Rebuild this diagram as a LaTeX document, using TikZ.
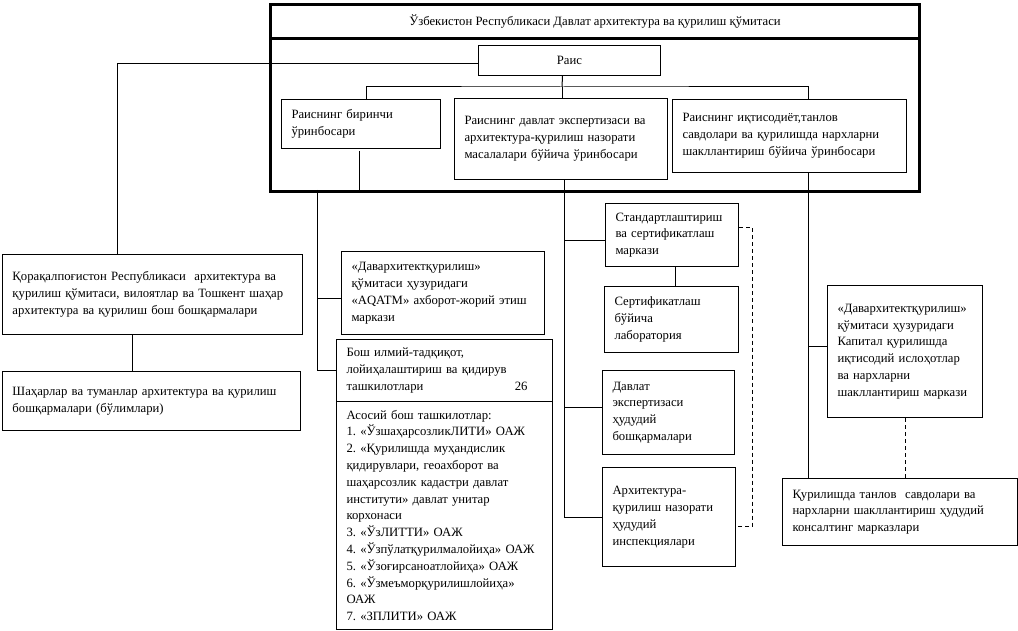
\documentclass[tikz,border=0pt]{standalone}
\usepackage{fontspec}
\setmainfont{Liberation Serif}
\usetikzlibrary{calc,positioning}
\hyphenpenalty=10000
\exhyphenpenalty=10000
\frenchspacing
\newcommand{\orgfont}{\fontsize{12.7pt}{16.8pt}\selectfont}
\tikzset{
  obox/.style 2 args={rectangle, draw=black, line width=1pt, anchor=north west,
                      align=left, inner xsep=10pt, inner ysep=0pt,
                      text width=#1, minimum height=#2, font=\orgfont},
  oframe/.style={rectangle, draw=black, line width=3pt, anchor=north west,
                 inner sep=0pt, font=\orgfont},
  olink/.style={line width=1pt, black},
  odash/.style={olink, dash pattern=on 4pt off 3pt},
}

\begin{document}
\begin{tikzpicture}[x=1pt,y=-1pt]
  \useasboundingbox (0,0) rectangle (1018,631);
  \node[oframe, minimum width=649pt, minimum height=153pt] (frame) at (269,37) {};
  \node[oframe, minimum width=649pt, minimum height=34pt] (title) at (269,3)
    {Ўзбекистон Республикаси Давлат архитектура ва қурилиш қўмитаси};
  \node[obox={162pt}{30pt}, align=center] (rais) at (478,45) {Раис};
  \node[obox={139pt}{49pt}] (dep1) at (281,99)
    {Раиснинг биринчи\\ ўринбосари};
  \node[obox={193pt}{81pt}] (dep2) at (454,98)
    {Раиснинг давлат экспертизаси ва\\ архитектура-қурилиш назорати\\ масалалари бўйича ўринбосари\\[14pt]};
  \node[obox={214pt}{73pt}] (dep3) at (672,99)
    {Раиснинг иқтисодиёт,танлов\\ савдолари ва қурилишда нархларни\\ шакллантириш бўйича ўринбосари};
  \node[obox={280pt}{80pt}] (qq) at (2,254)
    {Қорақалпоғистон Республикаси\ \ архитектура ва\\ қурилиш қўмитаси, вилоятлар ва Тошкент шаҳар\\ архитектура ва қурилиш бош бошқармалари\\[6pt]};
  \node[obox={278pt}{59pt}] (cities) at (2,371)
    {Шаҳарлар ва туманлар архитектура ва қурилиш\\ бошқармалари (бўлимлари)\\[6pt]};
  \node[obox={183pt}{83pt}] (aqatm) at (341,251)
    {«Даварxитектқурилиш»\\ қўмитаси ҳузуридаги\\ «AQATM» ахборот-жорий этиш\\ маркази};
  \node[obox={196pt}{62pt}] (niiTop) at (336,339)
    {Бош илмий-тадқиқот,\\ лойиҳалаштириш ва қидирув\\ ташкилотлари\hskip 0pt plus 1fill 26\rule{15pt}{0pt}};
  \node[obox={196pt}{228pt}] (niiList) at (336,401)
    {Асосий бош ташкилотлар:\\ 1. «ЎзшаҳарсозликЛИТИ» ОАЖ\\ 2. «Қурилишда муҳандислик\\ қидирувлари, геоахборот ва\\ шаҳарсозлик кадастри давлат\\ институти» давлат унитар\\ корхонаси\\ 3. «ЎзЛИТТИ» ОАЖ\\ 4. «Ўзпўлатқурилмалойиҳа» ОАЖ\\ 5. «Ўзоғирсаноатлойиҳа» ОАЖ\\ 6. «Ўзмеъморқурилишлойиҳа»\\ ОАЖ\\ 7. «ЗПЛИТИ» ОАЖ};
  \node[obox={113pt}{63pt}] (std) at (605,203)
    {Стандартлаштириш\\ ва сертификатлаш\\ маркази};
  \node[obox={114pt}{66pt}] (lab) at (604,286)
    {Сертификатлаш\\ бўйича\\ лаборатория};
  \node[obox={112pt}{84pt}] (expert) at (602,370)
    {Давлат\\ экспертизаси\\ ҳудудий\\ бошқармалари};
  \node[obox={113pt}{99pt}] (insp) at (602,467)
    {Архитектура-\\ қурилиш назорати\\ ҳудудий\\ инспекциялари\\[30pt]};
  \node[obox={135pt}{132pt}] (capital) at (827,285)
    {«Даварxитектқурилиш»\\ қўмитаси ҳузуридаги\\ Капитал қурилишда\\ иқтисодий ислоҳотлар\\ ва нархларни\\ шакллантириш маркази\\[12pt]};
  \node[obox={215pt}{67pt}] (consult) at (782,478)
    {Қурилишда танлов\ \ савдолари ва\\ нархларни шакллантириш ҳудудий\\ консалтинг марказлари};

  \coordinate (bus) at (562,87);
  \coordinate (stubTop) at (359,151);
  \coordinate (stubEnd) at (359,192);
  \coordinate (trunkL) at (317,190);
  \draw[olink] ([xshift=-7pt]rais.south) -- (bus);
  \draw[olink] ([xshift=5.5pt]dep1.north) |- (bus) -| ([xshift=18.5pt]dep3.north);
  \draw[olink] (bus) -- (bus |- dep2.north);
  \draw[olink] ([yshift=-3pt]rais.west) -| ([xshift=-35pt]qq.north);
  \draw[olink] ([xshift=-20pt]qq.south) -- ([xshift=-19pt]cities.north);
  \draw[olink] (stubTop) -- (stubEnd);
  \draw[olink] (trunkL) |- (niiTop.west);
  \draw[olink] ([yshift=-5.5pt]aqatm.west) -- ++(-24,0);
  \draw[olink] ([xshift=3.5pt]dep2.south) |- (insp.west);
  \draw[olink] ([yshift=-5.5pt]std.west) -- ++(-41,0);
  \draw[olink] ([yshift=5pt]expert.west) -- ++(-38,0);
  \draw[olink] ([xshift=3.5pt]std.south) -- ([xshift=4pt]lab.north);
  \draw[odash] ([yshift=7.5pt]std.east) -- ++(13,0) |- ([yshift=-9.5pt]insp.east);
  \draw[olink] ([xshift=18.5pt]dep3.south) -- ([xshift=-92pt]consult.north);
  \draw[olink] ([yshift=5pt]capital.west) -- ++(-19.5,0);
  \draw[odash] (capital.south) -- (capital.south |- consult.north);
\end{tikzpicture}
\end{document}
